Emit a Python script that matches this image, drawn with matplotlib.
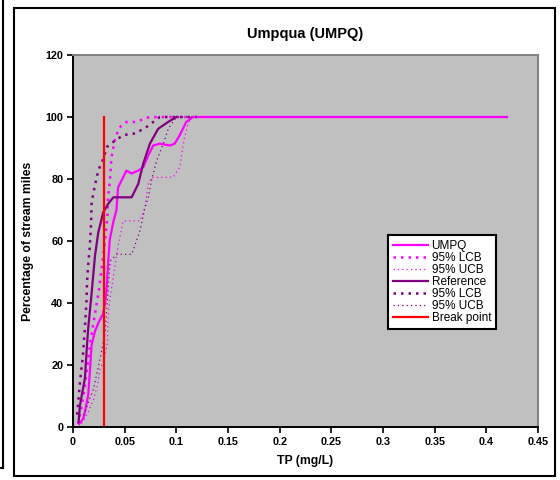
import matplotlib
matplotlib.use("Agg")
import matplotlib.pyplot as plt
from matplotlib.patches import Rectangle
from matplotlib.lines import Line2D

plt.rcParams['font.family'] = ['Liberation Sans', 'DejaVu Sans']

# UMPQ site distribution (TP mg/L vs percentage of stream miles)
umpq_x = [0.006, 0.0099, 0.0115, 0.0147, 0.0163, 0.018, 0.0212, 0.0244, 0.029, 0.031,
          0.0324, 0.034, 0.0356, 0.0388, 0.042, 0.0436, 0.0484, 0.0516, 0.0567, 0.0631,
          0.0679, 0.0728, 0.0776, 0.084, 0.0936, 0.0984, 0.1032, 0.1096, 0.116, 0.42]
umpq_y = [1, 2.7, 4.9, 10.3, 17.8, 26.5, 30.8, 33.5, 36.5, 40,
          44, 53, 60.5, 65.9, 70, 77.3, 80.5, 82.7, 81.8, 82.7,
          83.8, 87.6, 90.8, 91.4, 90.8, 91.4, 94.1, 98.4, 100, 100]

umpq_lcb_x = [0.005, 0.008, 0.011, 0.014, 0.017, 0.021, 0.025, 0.028, 0.031, 0.0333,
              0.034, 0.0356, 0.0372, 0.0404, 0.0436, 0.0468, 0.0516, 0.0615, 0.0712, 0.081, 0.12]
umpq_lcb_y = [1, 6, 12, 20, 28, 36, 44, 52, 60, 68,
              74.6, 78.9, 87, 92.4, 95.7, 97.3, 98.4, 98.4, 99.8, 100, 100]

umpq_ucb_x = [0.006, 0.01, 0.015, 0.02, 0.024, 0.026, 0.0292, 0.0333, 0.0336, 0.0345,
              0.0359, 0.0388, 0.0436, 0.0487, 0.0647, 0.0696, 0.0728, 0.076, 0.097, 0.1035,
              0.105, 0.108, 0.1115, 0.1144, 0.12]
umpq_ucb_y = [0, 2, 5, 9, 14, 18.4, 21, 27, 32.4, 38,
              41.6, 48.1, 58.5, 66.5, 66.5, 70.8, 78.4, 80.5, 80.6, 83.9,
              87.7, 93.6, 97.9, 100, 100]

ref_x = [0.0054, 0.0067, 0.0115, 0.0131, 0.0147, 0.018, 0.0212, 0.0244, 0.0292, 0.034,
         0.0391, 0.0567, 0.0631, 0.0679, 0.0744, 0.0824, 0.092, 0.1]
ref_y = [1.6, 7, 15.7, 24.3, 31.9, 43.2, 55.1, 62.7, 69.2, 72,
         74.1, 74.1, 78.4, 84.9, 91.4, 96.2, 98.4, 100]

ref_lcb_x = [0.004, 0.0071, 0.0096, 0.0115, 0.0131, 0.0135, 0.0147, 0.0163, 0.0175, 0.018,
             0.0205, 0.0244, 0.0292, 0.033, 0.041, 0.049, 0.0603, 0.0712, 0.084, 0.12]
ref_lcb_y = [4, 15.7, 23.2, 32, 41, 46.5, 52.4, 58.4, 66, 72.4,
             76.8, 82.7, 86.5, 90.4, 92.5, 94.2, 94.7, 96.8, 100, 100]

ref_ucb_x = [0.0103, 0.0199, 0.0263, 0.0311, 0.0343, 0.0359, 0.0423, 0.0567, 0.0647, 0.0696,
             0.0728, 0.0763, 0.081, 0.0875, 0.0923, 0.1, 0.12]
ref_ucb_y = [3.8, 12.4, 22.2, 30.8, 45.9, 53.5, 55.7, 55.7, 63.2, 70.8,
             74.1, 80.1, 86, 91.5, 96.3, 100, 100]

break_x = [0.03, 0.03]
break_y = [0, 100]

x_ticks = [0, 0.05, 0.1, 0.15, 0.2, 0.25, 0.3, 0.35, 0.4, 0.45]
x_tick_labels = ['0', '0.05', '0.1', '0.15', '0.2', '0.25', '0.3', '0.35', '0.4', '0.45']
y_ticks = [0, 20, 40, 60, 80, 100, 120]

MAGENTA = '#FF00FF'
PURPLE = '#800080'

fig = plt.figure(figsize=(5.6, 4.8), dpi=100, facecolor='white')
ax = fig.add_axes([0.1304, 0.1104, 0.8304, 0.775])
ax.set_facecolor('#C0C0C0')

ax.plot(umpq_x, umpq_y, color=MAGENTA, lw=1.6, label='UMPQ')
ax.plot(umpq_lcb_x, umpq_lcb_y, color=MAGENTA, lw=1.8, ls=(0, (1, 2)), label='95% LCB')
ax.plot(umpq_ucb_x, umpq_ucb_y, color=MAGENTA, lw=0.9, ls=(0, (1, 2.5)), label='95% UCB')
ax.plot(ref_x, ref_y, color=PURPLE, lw=1.6, label='Reference')
ax.plot(ref_lcb_x, ref_lcb_y, color=PURPLE, lw=1.8, ls=(0, (1, 2)), label='95% LCB')
ax.plot(ref_ucb_x, ref_ucb_y, color=PURPLE, lw=0.9, ls=(0, (1, 2.5)), label='95% UCB')
ax.plot(break_x, break_y, color='#FF0000', lw=1.6, label='Break point')

ax.set_xlim(0, 0.45)
ax.set_ylim(0, 120)
ax.set_xticks(x_ticks)
ax.set_xticklabels(x_tick_labels)
ax.set_yticks(y_ticks)
ax.tick_params(direction='out', length=4, width=1.2, labelsize=7.8, pad=3)
for lab in ax.get_xticklabels() + ax.get_yticklabels():
    lab.set_fontweight('bold')

for side in ['left', 'bottom']:
    ax.spines[side].set_color('black')
    ax.spines[side].set_linewidth(1.4)
for side in ['top', 'right']:
    ax.spines[side].set_color('#808080')
    ax.spines[side].set_linewidth(1.4)

ax.set_title('Umpqua (UMPQ)', fontsize=10.5, fontweight='bold', pad=12)
ax.set_xlabel('TP (mg/L)', fontsize=8.8, fontweight='bold', labelpad=6)
ax.set_ylabel('Percentage of stream miles', fontsize=8.8, fontweight='bold', labelpad=8)

leg = ax.legend(loc='upper left', bbox_to_anchor=(0.677, 0.516), fontsize=8.5,
                frameon=True, fancybox=False, framealpha=1, facecolor='white',
                edgecolor='black', labelspacing=0.0, handlelength=3.0,
                handletextpad=0.3, borderpad=0.4, borderaxespad=0)
leg.get_frame().set_linewidth(1.5)

# chart border and edge of neighbouring chart
fig.patches.append(Rectangle((14 / 560, 1 - 476 / 480), 541 / 560, 468 / 480,
                             transform=fig.transFigure, fill=False,
                             edgecolor='black', lw=1.5))
fig.lines.append(Line2D([3 / 560, 3 / 560], [1, 1 - 468 / 480],
                        transform=fig.transFigure, color='black', lw=1.5))
fig.lines.append(Line2D([0, 3 / 560], [1 - 468 / 480, 1 - 468 / 480],
                        transform=fig.transFigure, color='black', lw=1.5))

fig.savefig('out.png', dpi=100)
